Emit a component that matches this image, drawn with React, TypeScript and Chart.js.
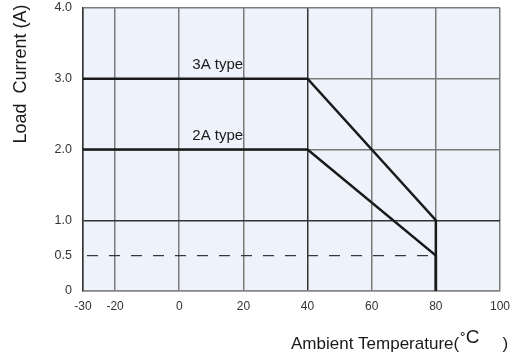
import React, { useEffect, useRef } from 'react';
import { Chart, registerables } from 'chart.js';

Chart.register(...registerables);

const xTicks = [-30, -20, 0, 20, 40, 60, 80, 100];
const yTicks = [0, 0.5, 1, 2, 3, 4];
const type3Temp = [-30, 40, 80, 80];
const type3Current = [3, 3, 1, 0];
const type2Temp = [-30, 40, 80, 80];
const type2Current = [2, 2, 0.5, 0];
const limitTemp = [-30, 80];
const limitCurrent = [0.5, 0.5];
const seriesLabels = ['3A type', '2A type'];
const labelTemp = [12, 12];
const labelCurrent = [3, 2];
const yTitle = 'Load  Current (A)';
const xTitleParts = ['Ambient Temperature(', '˚', 'C', ')'];

const FONT = "'Liberation Sans', Arial, sans-serif";

const toPoints = (xs: number[], ys: number[]) => xs.map((x, i) => ({ x, y: ys[i] }));

const decorPlugin = {
  id: 'decor',
  beforeDraw(chart: any) {
    const { ctx, chartArea: a } = chart;
    ctx.save();
    ctx.fillStyle = '#eef2fa';
    ctx.fillRect(a.left, a.top, a.right - a.left, a.bottom - a.top);
    ctx.restore();
  },
  afterDatasetsDraw(chart: any) {
    const { ctx } = chart;
    const xs = chart.scales.x;
    const ys = chart.scales.y;
    ctx.save();
    ctx.fillStyle = '#1a1a1a';
    ctx.font = `15px ${FONT}`;
    ctx.textAlign = 'center';
    ctx.textBaseline = 'alphabetic';
    seriesLabels.forEach((t, i) => {
      ctx.fillText(t, xs.getPixelForValue(labelTemp[i]), ys.getPixelForValue(labelCurrent[i]) - 10);
    });
    ctx.restore();
  },
  afterDraw(chart: any) {
    const { ctx } = chart;
    ctx.save();
    ctx.fillStyle = '#1a1a1a';
    // y title
    ctx.translate(21, 74);
    ctx.rotate(-Math.PI / 2);
    ctx.font = `18px ${FONT}`;
    ctx.textAlign = 'center';
    ctx.textBaseline = 'middle';
    ctx.fillText(yTitle, 0, 0);
    ctx.restore();

    ctx.save();
    ctx.fillStyle = '#1a1a1a';
    ctx.textAlign = 'left';
    ctx.textBaseline = 'alphabetic';
    let cx = 291;
    ctx.font = `17px ${FONT}`;
    ctx.fillText(xTitleParts[0], cx, 349);
    cx += ctx.measureText(xTitleParts[0]).width + 1;
    ctx.font = `17px ${FONT}`;
    ctx.fillText(xTitleParts[1], cx, 345);
    cx += ctx.measureText(xTitleParts[1]).width;
    ctx.font = `19px ${FONT}`;
    ctx.fillText(xTitleParts[2], cx, 343);
    cx += ctx.measureText(xTitleParts[2]).width + 23;
    ctx.font = `17px ${FONT}`;
    ctx.fillText(xTitleParts[3], cx, 349);
    ctx.restore();
  },
};

export default function App() {
  const ref = useRef<HTMLCanvasElement | null>(null);
  useEffect(() => {
    if (!ref.current) return;
    const chart = new Chart(ref.current, {
      type: 'line',
      data: {
        datasets: [
          {
            label: seriesLabels[0],
            data: toPoints(type3Temp, type3Current),
            borderColor: '#1a1a1a',
            borderWidth: 2.5,
            pointRadius: 0,
            tension: 0,
            fill: false,
          },
          {
            label: seriesLabels[1],
            data: toPoints(type2Temp, type2Current),
            borderColor: '#1a1a1a',
            borderWidth: 2.5,
            pointRadius: 0,
            tension: 0,
            fill: false,
          },
          {
            label: 'limit',
            data: toPoints(limitTemp, limitCurrent),
            borderColor: '#333',
            borderWidth: 1.2,
            borderDash: [11, 11],
            borderDashOffset: 18,
            pointRadius: 0,
            fill: false,
          },
        ],
      },
      options: {
        animation: false,
        responsive: false,
        layout: { padding: { top: 8, right: 11, left: 0, bottom: 0 } },
        plugins: { legend: { display: false }, tooltip: { enabled: false } },
        events: [],
        scales: {
          x: {
            type: 'linear',
            min: -30,
            max: 100,
            afterBuildTicks: (s: any) => {
              s.ticks = xTicks.map((v) => ({ value: v }));
            },
            afterFit: (s: any) => {
              s.height = 72;
              s.paddingLeft = 0;
              s.paddingRight = 0;
            },
            ticks: {
              font: { size: 12, family: FONT },
              color: '#333',
              padding: 8,
              maxRotation: 0,
              autoSkip: false,
              callback: (v: any) => String(v),
            },
            grid: {
              drawTicks: false,
              lineWidth: 1.5,
              color: (c: any) => (c.tick && c.tick.value === 40 ? '#333' : '#7a7a7a'),
            },
            border: { color: '#888', width: 1.5 },
          },
          y: {
            type: 'linear',
            min: 0,
            max: 4,
            afterBuildTicks: (s: any) => {
              s.ticks = yTicks.map((v) => ({ value: v }));
            },
            afterFit: (s: any) => {
              s.width = 83;
              s.paddingTop = 0;
              s.paddingBottom = 0;
            },
            ticks: {
              font: { size: 12.5, family: FONT },
              color: '#333',
              padding: 11,
              autoSkip: false,
              callback: (v: any) => (v === 0 ? '0' : Number(v).toFixed(1)),
            },
            grid: {
              drawTicks: false,
              lineWidth: 1.5,
              color: (c: any) => {
                const v = c.tick ? c.tick.value : null;
                if (v === 0.5) return 'rgba(0,0,0,0)';
                if (v === 1) return '#333';
                return '#7a7a7a';
              },
            },
            border: { color: '#333', width: 1.5 },
          },
        },
      },
      plugins: [decorPlugin],
    } as any);
    return () => chart.destroy();
  }, []);

  return (
    <div style={{ position: 'fixed', left: 0, top: 0, width: 511, height: 363, background: '#fff' }}>
      <canvas ref={ref} width={511} height={363} style={{ display: 'block' }} />
    </div>
  );
}
